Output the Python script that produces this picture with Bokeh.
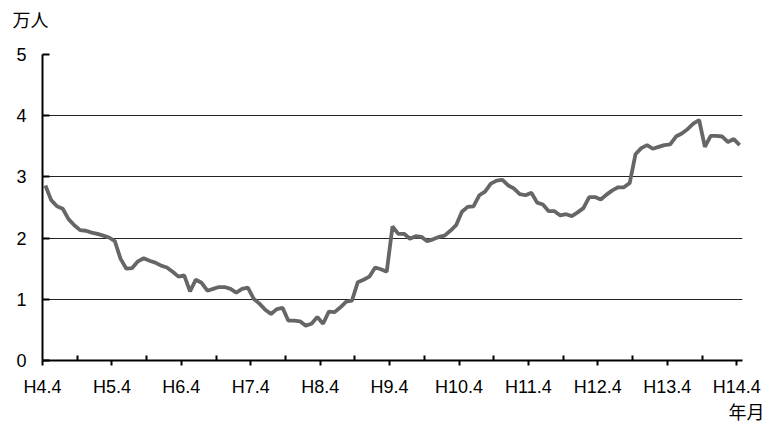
import numpy as np
from bokeh.plotting import figure
from bokeh.models import Range1d, FixedTicker, Title, LinearAxis
from bokeh.embed import file_html
from bokeh.resources import INLINE

# monthly values (万人), H4.4 .. H14.4
values = [
    2.86, 2.62, 2.52, 2.48, 2.31, 2.21, 2.13, 2.12, 2.09, 2.07,
    2.04, 2.01, 1.95, 1.66, 1.50, 1.51, 1.62, 1.67, 1.63, 1.60,
    1.55, 1.52, 1.45, 1.37, 1.39, 1.13, 1.32, 1.27, 1.14, 1.17,
    1.20, 1.20, 1.17, 1.11, 1.17, 1.19, 1.01, 0.93, 0.83, 0.76,
    0.84, 0.86, 0.65, 0.65, 0.64, 0.57, 0.60, 0.71, 0.60, 0.80,
    0.79, 0.87, 0.96, 0.98, 1.28, 1.32, 1.37, 1.52, 1.49, 1.45,
    2.19, 2.07, 2.07, 1.99, 2.03, 2.02, 1.95, 1.98, 2.02, 2.04,
    2.12, 2.21, 2.43, 2.51, 2.52, 2.70, 2.76, 2.89, 2.94, 2.95,
    2.86, 2.81, 2.72, 2.70, 2.74, 2.58, 2.55, 2.44, 2.44, 2.37,
    2.39, 2.36, 2.42, 2.49, 2.67, 2.67, 2.63, 2.71, 2.78, 2.83,
    2.83, 2.90, 3.37, 3.47, 3.52, 3.46, 3.49, 3.52, 3.53, 3.66,
    3.71, 3.78, 3.87, 3.93, 3.49, 3.67, 3.67, 3.66, 3.57, 3.62,
    3.52,
]
tick_labels = ["H4.4", "H5.4", "H6.4", "H7.4", "H8.4", "H9.4",
               "H10.4", "H11.4", "H12.4", "H13.4", "H14.4"]
y_ticks = [0, 1, 2, 3, 4, 5]
unit_label = "万人"
x_label = "年月"

n = len(values)
x = np.arange(n) + 0.5
major = [i * 12 for i in range(len(tick_labels))]
minor = [m + 6 for m in major[:-1]]

cjk = "Noto Sans CJK JP"
num_font = "Liberation Sans"

p = figure(width=778, height=422, output_backend="svg", toolbar_location=None,
           x_range=Range1d(0, n), y_range=Range1d(0, 5),
           min_border_left=42, min_border_right=36,
           min_border_top=54, min_border_bottom=62,
           title=Title(text=unit_label, align="left", offset=-30, standoff=0,
                       text_font=cjk, text_font_size="18px",
                       text_font_style="normal", text_color="black"))
p.outline_line_color = None
p.background_fill_color = "white"
p.border_fill_color = "white"

p.line(x, values, line_color="#666666", line_width=3.8)

xa = p.xaxis[0]
ya = p.yaxis[0]

xa.ticker = FixedTicker(ticks=major, minor_ticks=minor)
xa.major_label_overrides = {m: lab for m, lab in zip(major, tick_labels)}
xa.major_tick_in = 0
xa.major_tick_out = 5
xa.minor_tick_in = 5
xa.minor_tick_out = 0
xa.axis_line_width = 2
xa.axis_line_color = "black"
xa.major_tick_line_color = "black"
xa.minor_tick_line_color = "black"
xa.major_tick_line_width = 2
xa.minor_tick_line_width = 2
xa.major_label_text_font = num_font
xa.major_label_text_font_size = "18px"
xa.major_label_text_color = "black"
xa.major_label_standoff = 11

ya.ticker = FixedTicker(ticks=y_ticks, minor_ticks=[])
ya.major_tick_in = 7
ya.major_tick_out = 0
ya.minor_tick_in = 0
ya.minor_tick_out = 0
ya.axis_line_width = 2
ya.axis_line_color = "black"
ya.major_tick_line_color = "black"
ya.major_tick_line_width = 2
ya.major_label_text_font = num_font
ya.major_label_text_font_size = "18px"
ya.major_label_text_color = "black"
ya.major_label_standoff = 16

# invisible spacer axis above the frame: one white tick, empty label, no line
spacer = LinearAxis(ticker=FixedTicker(ticks=[60], minor_ticks=[]),
                    major_label_overrides={60: ""},
                    axis_line_color=None, major_tick_line_color="white",
                    minor_tick_line_color=None, major_tick_in=0,
                    major_tick_out=23, minor_tick_in=0, minor_tick_out=0,
                    major_label_standoff=0)
p.add_layout(spacer, "above")

p.xgrid.visible = False
p.ygrid.ticker = FixedTicker(ticks=y_ticks[1:])
p.ygrid.grid_line_color = "#222222"
p.ygrid.grid_line_width = 1

p.add_layout(Title(text=x_label, align="right", offset=-22, standoff=-8,
                   text_font=cjk, text_font_size="18px",
                   text_font_style="normal", text_color="black"), "below")

open("out.html", "w").write(file_html(p, INLINE))
